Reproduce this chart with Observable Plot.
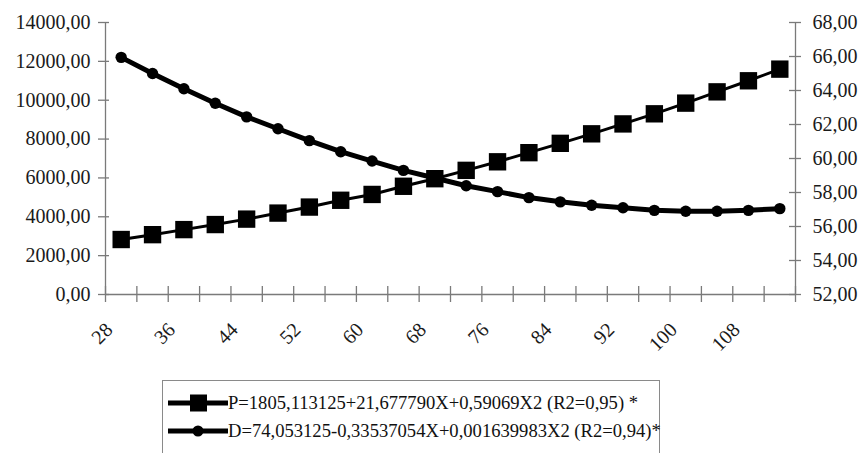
<!DOCTYPE html>
<html><head><meta charset="utf-8">
<script src="https://cdn.jsdelivr.net/npm/d3@7"></script>
<script src="https://cdn.jsdelivr.net/npm/@observablehq/plot@0.6"></script>
<style>
html,body{margin:0;padding:0;background:#fff;}
#wrap{position:relative;width:861px;height:453px;overflow:hidden;font-family:"Liberation Serif","Times New Roman",serif;}
#chart svg{display:block;}
#legend{position:absolute;left:162px;top:380px;width:498px;height:100px;border:1.5px solid #8a8a8a;box-sizing:border-box;}
.row{position:absolute;left:4px;height:26px;display:flex;align-items:center;font-size:18.6px;color:#111;white-space:nowrap;}
.row svg{display:block;margin-right:0;}
</style>
</head><body>
<div id="wrap">
  <div id="chart"></div>
  <div id="legend">
    <div class="row" style="top:9px"><svg width="61" height="26" id="symP"></svg><span id="labP"></span></div>
    <div class="row" style="top:37px"><svg width="61" height="26" id="symD"></svg><span id="labD"></span></div>
  </div>
</div>
<script>
// ---- data ----
const categories = [28,32,36,40,44,48,52,56,60,64,68,72,76,80,84,88,92,96,100,104,108,112];
const seriesP = [2830,3080,3340,3600,3880,4190,4500,4850,5150,5570,5960,6390,6830,7300,7780,8270,8780,9300,9850,10430,11000,11600];
const seriesD = [65.95,65.0,64.1,63.25,62.45,61.75,61.05,60.4,59.85,59.3,58.85,58.4,58.05,57.7,57.45,57.25,57.1,56.95,56.9,56.9,56.95,57.05];
const xTickLabels = [28,36,44,52,60,68,76,84,92,100,108];
const xBoundaries = [26,30,34,38,42,46,50,54,58,62,66,70,74,78,82,86,90,94,98,102,106,110,114];
const leftTicks = [0,2000,4000,6000,8000,10000,12000,14000];
const rightTicks = [52,54,56,58,60,62,64,66,68];
const legendP = "P=1805,113125+21,677790X+0,59069X2 (R2=0,95) *";
const legendD = "D=74,053125-0,33537054X+0,001639983X2 (R2=0,94)*";

// map right-axis values onto the left scale
const rMin = 52, rMax = 68, lMax = 14000;
const toLeft = v => (v - rMin) / (rMax - rMin) * lMax;
const fmt = v => d3.format(".2f")(v).replace(".", ",");

const data = categories.map((x, i) => ({x, p: seriesP[i], d: toLeft(seriesD[i])}));
const gray = "#7a7a7a";
const xMin = xBoundaries[0], xMax = xBoundaries[xBoundaries.length - 1];

const chart = Plot.plot({
  width: 861, height: 370,
  marginLeft: 105, marginRight: 66, marginTop: 22, marginBottom: 76,
  x: {domain: [xMin, xMax], axis: null},
  y: {domain: [0, lMax], axis: null},
  style: {fontFamily: "'Liberation Serif','Times New Roman',serif", fontSize: "20px", color: "#1a1a1a", background: "white"},
  marks: [
    Plot.ruleY([0], {stroke: gray, strokeWidth: 1.3}),
    Plot.ruleX([xMin, xMax], {stroke: gray, strokeWidth: 1.3}),
    Plot.ruleY(leftTicks, {x1: xMin, x2: xMin, insetLeft: -7, insetRight: -4, stroke: gray, strokeWidth: 1.3}),
    Plot.ruleY(rightTicks.map(toLeft), {x1: xMax, x2: xMax, insetLeft: -6, insetRight: -6, stroke: gray, strokeWidth: 1.3}),
    Plot.ruleX(xBoundaries, {y1: 0, y2: 0, insetTop: -8, insetBottom: -8, stroke: gray, strokeWidth: 1.3}),
    Plot.text(leftTicks, {x: xMin, y: d => d, text: fmt, textAnchor: "end", dx: -15, fill: "#1a1a1a"}),
    Plot.text(rightTicks, {x: xMax, y: toLeft, text: fmt, textAnchor: "start", dx: 17, fill: "#1a1a1a"}),
    Plot.text(xTickLabels, {x: d => d, y: 0, text: d => String(d), rotate: -45, textAnchor: "end", dx: -12, dy: 32, fill: "#1a1a1a"}),
    Plot.line(data, {x: "x", y: "p", stroke: "black", strokeWidth: 3}),
    Plot.dot(data, {x: "x", y: "p", symbol: "square", r: 9.8, fill: "black", stroke: "none"}),
    Plot.line(data, {x: "x", y: "d", stroke: "black", strokeWidth: 5}),
    Plot.dot(data, {x: "x", y: "d", r: 5.7, fill: "black", stroke: "none"})
  ]
});
document.getElementById("chart").appendChild(chart);

// legend symbols
const sp = d3.select("#symP");
sp.append("line").attr("x1", 1).attr("x2", 61).attr("y1", 13).attr("y2", 13).attr("stroke", "black").attr("stroke-width", 5);
sp.append("rect").attr("x", 23).attr("y", 4.5).attr("width", 17).attr("height", 17).attr("fill", "black");
const sd = d3.select("#symD");
sd.append("line").attr("x1", 1).attr("x2", 61).attr("y1", 13).attr("y2", 13).attr("stroke", "black").attr("stroke-width", 5);
sd.append("circle").attr("cx", 31).attr("cy", 13).attr("r", 5.5).attr("fill", "black");
document.getElementById("labP").textContent = legendP;
document.getElementById("labD").textContent = legendD;
</script>
</body></html>
